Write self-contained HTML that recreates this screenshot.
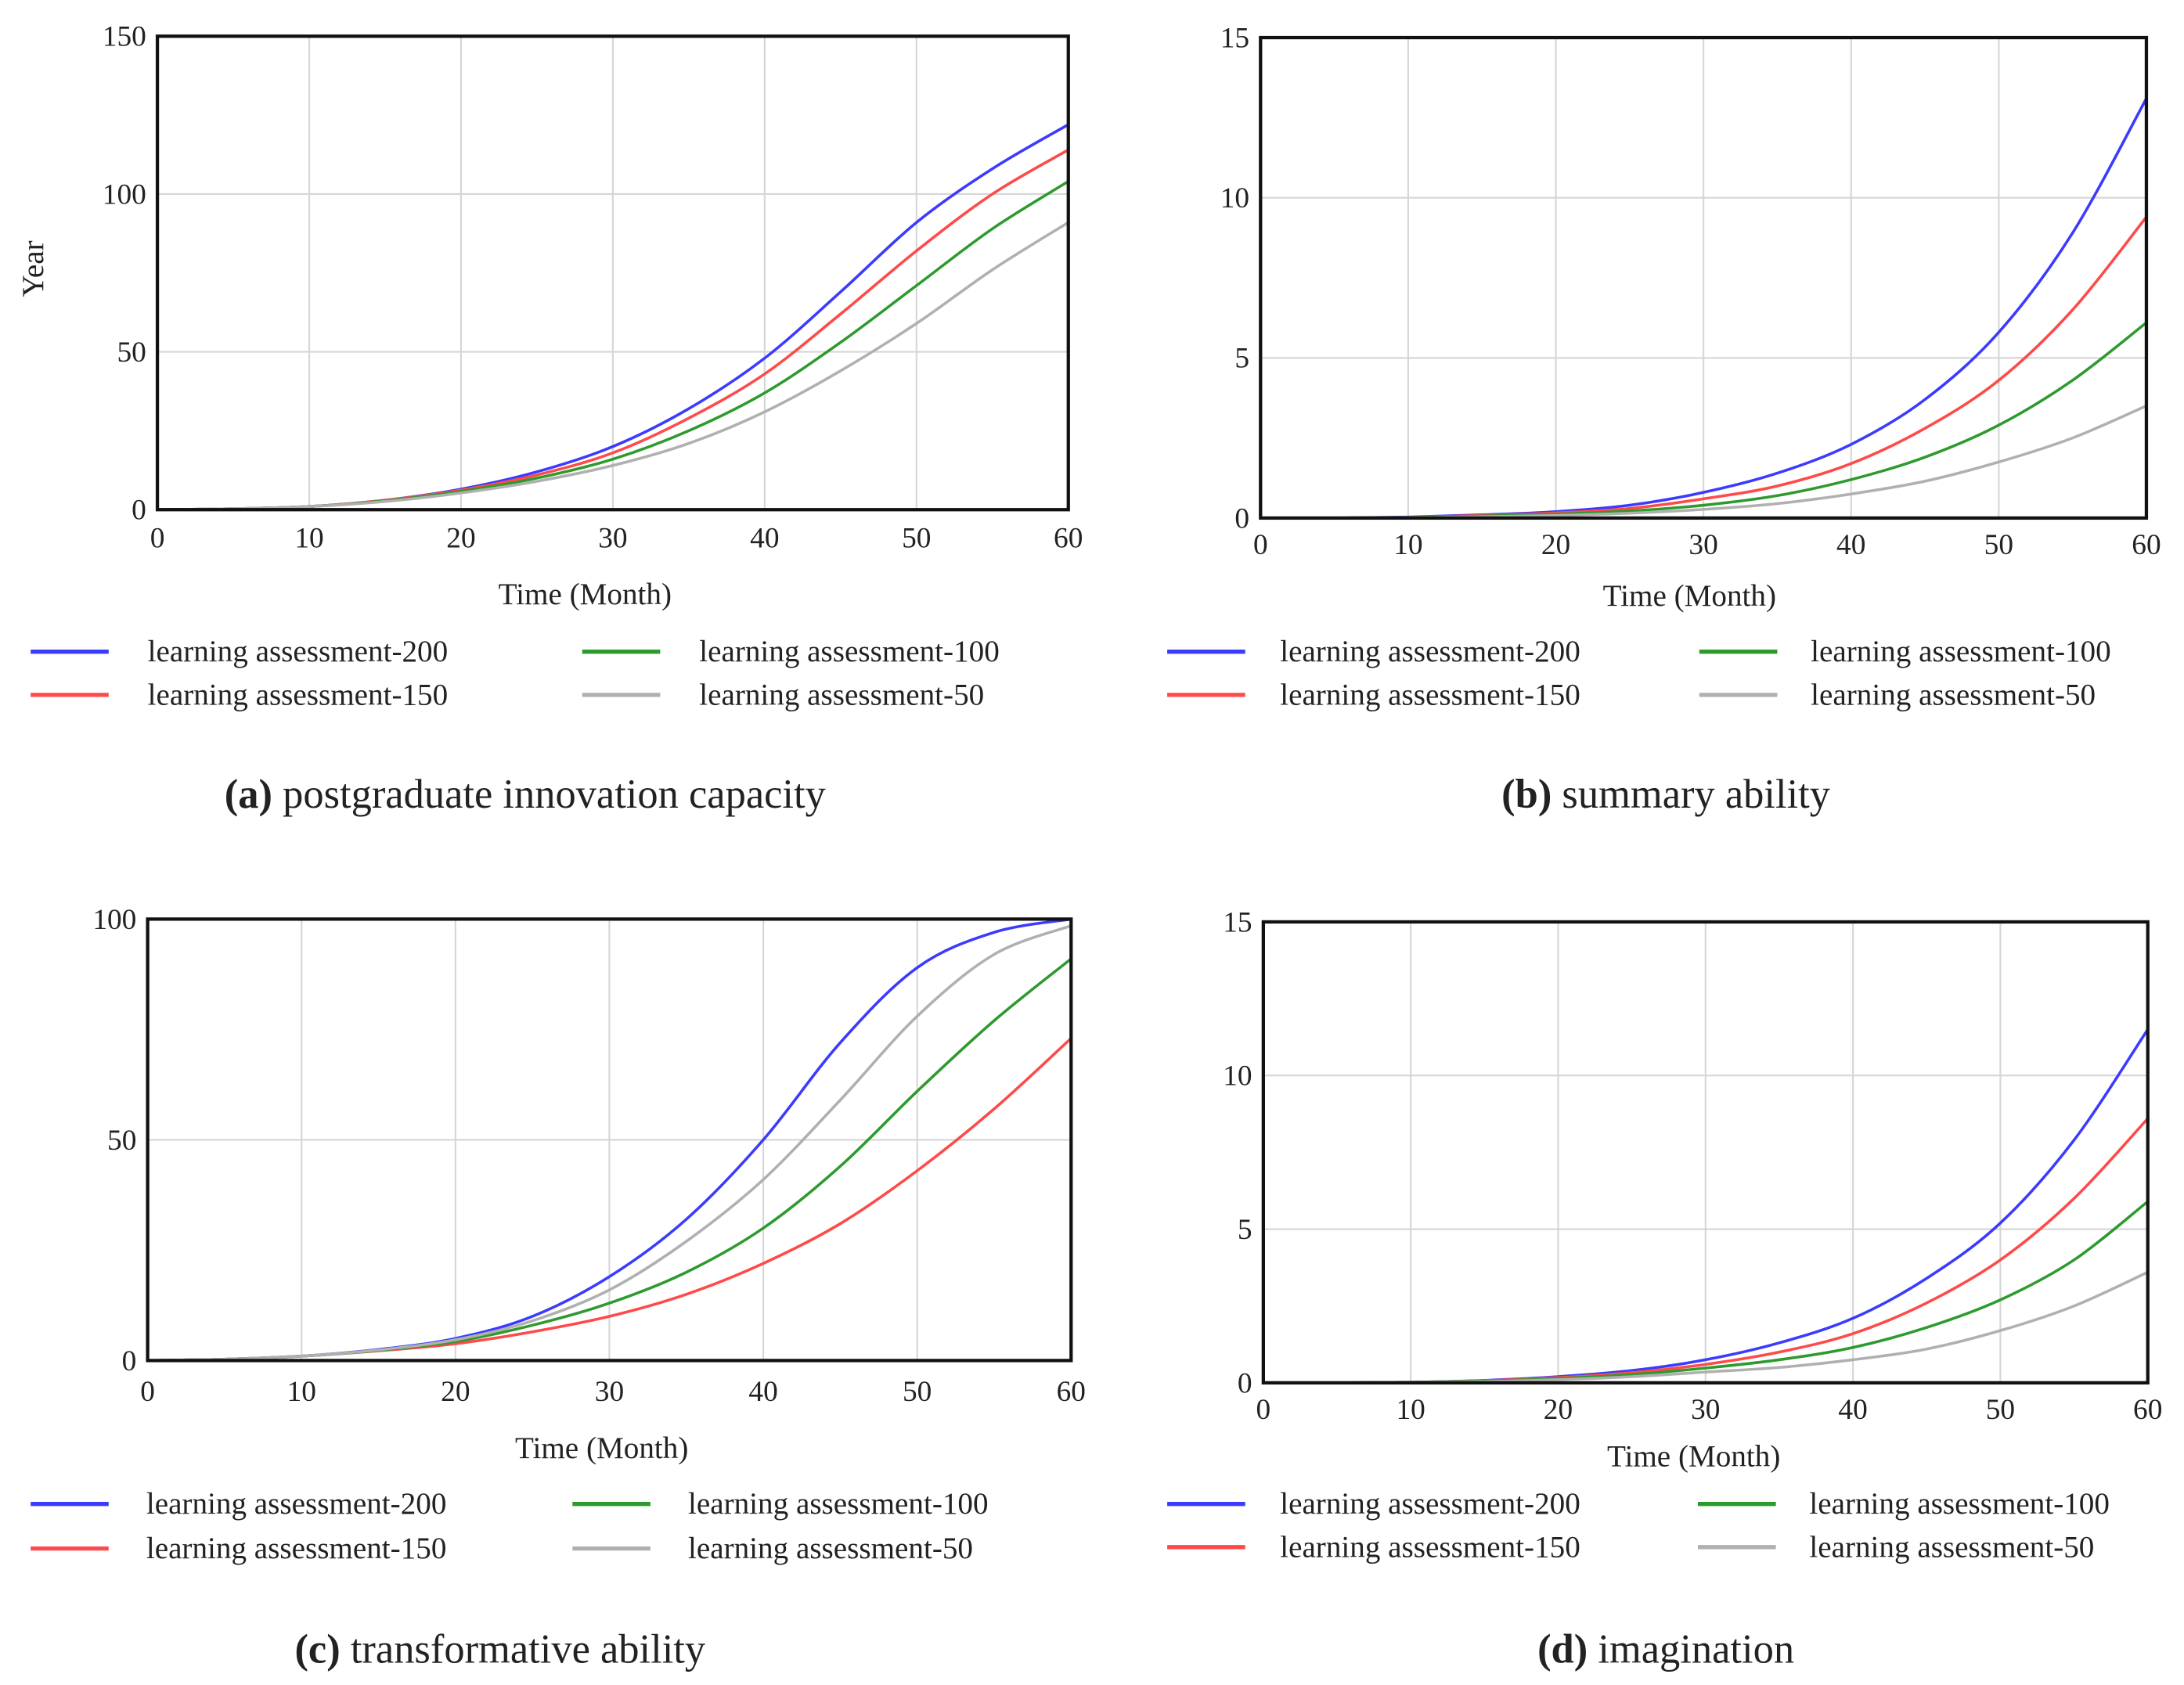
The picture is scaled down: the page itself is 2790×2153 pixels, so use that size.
<!DOCTYPE html>
<html><head><meta charset="utf-8"><style>
html,body{margin:0;padding:0;background:#fff}
svg{display:block}
text{font-family:"Liberation Serif",serif;fill:#222}
</style></head><body>
<svg id="fig" width="2790" height="2153" viewBox="0 0 1568 1210" preserveAspectRatio="none" xmlns="http://www.w3.org/2000/svg">
<rect width="1568" height="1210" fill="#fff"/>
</svg>
<script>
const months = [0,5,10,15,20,25,30,35,40,45,50,55,60];
const seriesNames = ["learning assessment-200","learning assessment-150","learning assessment-100","learning assessment-50"];
const seriesColors = ["#3b3bff","#ff4a4a","#2e9a2e","#b0b0b0"];
const xTicks = [0,10,20,30,40,50,60];
// panel (a)
const aYTicks = [0,50,100,150];
const a200 = [0,0.3,1,3,6.5,12,20,32,48,69,91,108,122];
const a150 = [0,0.3,1,3,6.2,11,18,29,43,62,82,100,114];
const a100 = [0,0.3,1,2.8,5.8,10,16,25,37,53,71,89,104];
const a50  = [0,0.3,1,2.6,5.3,9,14,21,31,44,59,76,91];
// panel (b)
const bYTicks = [0,5,10,15];
const b200 = [0,0,0.03,0.1,0.2,0.4,0.8,1.4,2.3,3.7,5.8,8.9,13.1];
const b150 = [0,0,0.02,0.08,0.16,0.3,0.6,1.0,1.7,2.8,4.3,6.5,9.4];
const b100 = [0,0,0.02,0.06,0.12,0.22,0.4,0.7,1.2,1.9,2.9,4.3,6.1];
const b50  = [0,0,0.01,0.04,0.08,0.15,0.27,0.45,0.75,1.15,1.75,2.5,3.5];
// panel (c)
const cYTicks = [0,50,100];
const c200 = [0,0.3,1,2.5,5,10,19,32,50,72,89,97,100];
const c150 = [0,0.3,1,2.2,3.8,6.5,10,15,22,31,43,57,73];
const c100 = [0,0.3,1,2.3,4.3,8,13,20,30,44,61,77,91];
const c50  = [0,0.3,1,2.4,4.7,9,16,27,41,59,78,92,98.5];
// panel (d)
const dYTicks = [0,5,10,15];
const d200 = [0,0,0.02,0.08,0.2,0.4,0.75,1.3,2.1,3.4,5.2,7.9,11.5];
const d150 = [0,0,0.02,0.07,0.17,0.33,0.6,1.0,1.6,2.6,4.0,6.0,8.6];
const d100 = [0,0,0.02,0.06,0.14,0.27,0.48,0.75,1.15,1.8,2.7,4.0,5.9];
const d50  = [0,0,0.01,0.04,0.1,0.2,0.35,0.5,0.75,1.1,1.7,2.5,3.6];

const NS="http://www.w3.org/2000/svg";
const svg=document.getElementById('fig');
function mk(tag,attrs,parent){const e=document.createElementNS(NS,tag);for(const k in attrs)e.setAttribute(k,attrs[k]);(parent||svg).appendChild(e);return e;}
function txt(s,x,y,size,anchor,parent,extra){const t=mk('text',Object.assign({x:x,y:y,'font-size':size,'text-anchor':anchor||'middle'},extra||{}),parent);t.textContent=s;return t;}

function panel(cfg){
  const g=mk('g',{});
  
  
  const L=cfg.L,R=cfg.R,T=cfg.T,B=cfg.B,ymax=cfg.yTicks[cfg.yTicks.length-1];
  const sx=v=>L+(v-0)/60*(R-L);
  const sy=v=>B-v/ymax*(B-T);
  xTicks.forEach(v=>{
    const l=mk('line',{x1:sx(v),x2:sx(v),y1:T,y2:B,stroke:'#d6d6d6','stroke-width':1.2},g);
    
    
    const t=txt(String(v),sx(v),cfg.xLabY,21,'middle',g);
    
    
  });
  cfg.yTicks.forEach(v=>{
    const l=mk('line',{x1:L,x2:R,y1:sy(v),y2:sy(v),stroke:'#d6d6d6','stroke-width':1.2},g);
    
    
    const t=txt(String(v),L-8,sy(v)+7,21,'end',g);
    
    
  });
  cfg.series.forEach((arr,i)=>{
    const pts=months.map((m,j)=>[sx(m),sy(arr[j])]);
    let d='M'+pts[0][0]+','+pts[0][1];
    for(let j=0;j<pts.length-1;j++){
      const p0=pts[j-1]||pts[j],p1=pts[j],p2=pts[j+1],p3=pts[j+2]||p2;
      const c1=[p1[0]+(p2[0]-p0[0])/6,p1[1]+(p2[1]-p0[1])/6];
      const c2=[p2[0]-(p3[0]-p1[0])/6,p2[1]-(p3[1]-p1[1])/6];
      d+=' C'+c1+' '+c2+' '+p2;
    }
    const p=mk('path',{d:d,fill:'none',stroke:seriesColors[i],'stroke-width':2},g);
    
    
  });
  const fr=mk('rect',{x:L,y:T,width:R-L,height:B-T,fill:'none',stroke:'#111','stroke-width':2.4},g);
  
  
  const xt=txt('Time (Month)',cfg.xTitle[0],cfg.xTitle[1],22,'middle',g);
  
  
  if(cfg.yTitle){
    const yt=txt(cfg.yTitle,0,0,22,'middle',g,{transform:'translate(31,193) rotate(-90)'});
    
    
  }
  [0,1,2,3].forEach(i=>{
    const col=i>=2?1:0,row=i%2;
    const lx=cfg.leg[col][0],tx=cfg.leg[col][1],y=cfg.legY[row];
    const lg=mk('g',{},g);
    
    
    mk('line',{x1:lx,x2:lx+56,y1:y,y2:y,stroke:seriesColors[i],'stroke-width':3},lg);
    txt(seriesNames[i],tx,y+7,22,'start',lg);
  });
  const cap=mk('text',{x:cfg.cap[0],y:cfg.cap[1],'font-size':29.5,'text-anchor':'middle'},g);
  
  
  const b=document.createElementNS(NS,'tspan');b.setAttribute('font-weight','bold');b.textContent='('+cfg.letter+')';
  cap.appendChild(b);cap.appendChild(document.createTextNode(' '+cfg.title));
}

panel({name:'panel-a-chart',L:113,R:767,T:26,B:366,yTicks:aYTicks,xLabY:393,xTitle:[420,434],yTitle:'Year',
  series:[a200,a150,a100,a50],leg:[[22,106],[418,502]],legY:[468,499],cap:[377,580],letter:'a',title:'postgraduate innovation capacity'});
panel({name:'panel-b-chart',L:905,R:1541,T:27,B:372,yTicks:bYTicks,xLabY:398,xTitle:[1213,435],
  series:[b200,b150,b100,b50],leg:[[838,919],[1220,1300]],legY:[468,499],cap:[1196,580],letter:'b',title:'summary ability'});
panel({name:'panel-c-chart',L:106,R:769,T:660,B:977,yTicks:cYTicks,xLabY:1006,xTitle:[432,1047],
  series:[c200,c150,c100,c50],leg:[[22,105],[411,494]],legY:[1080,1112],cap:[359,1194],letter:'c',title:'transformative ability'});
panel({name:'panel-d-chart',L:907,R:1542,T:662,B:993,yTicks:dYTicks,xLabY:1019,xTitle:[1216,1053],
  series:[d200,d150,d100,d50],leg:[[838,919],[1219,1299]],legY:[1080,1111],cap:[1196,1194],letter:'d',title:'imagination'});
</script>
</body></html>
